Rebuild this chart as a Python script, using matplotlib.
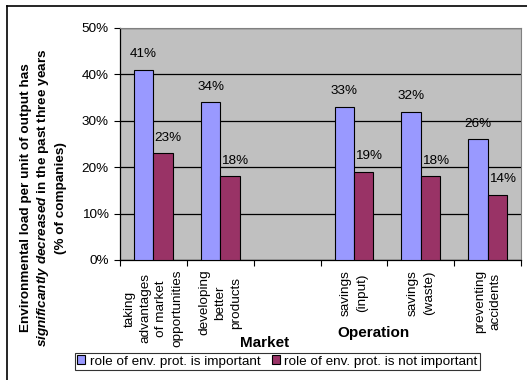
import numpy as np
import matplotlib.pyplot as plt
from matplotlib.lines import Line2D
from matplotlib.ticker import FixedLocator, PercentFormatter

plt.rcParams['font.family'] = ['Liberation Sans', 'DejaVu Sans']
plt.rcParams['mathtext.fontset'] = 'custom'
plt.rcParams['mathtext.bfit'] = 'Liberation Sans:italic:bold'

categories = ["taking\nadvantages\nof market\nopportunities",
              "developing\nbetter\nproducts",
              "",
              "savings\n(input)",
              "savings\n(waste)",
              "preventing\naccidents"]
important = [41, 34, None, 33, 32, 26]
not_important = [23, 18, None, 19, 18, 14]
series_names = ["role of env. prot. is important",
                "role of env. prot. is not important"]

W, H = 527, 380
fs = 9.7
fig = plt.figure(figsize=(W / 100, H / 100), dpi=100)
fig.patch.set_facecolor('white')

# plot area in pixels: x 120..521, y 28..260
ax = fig.add_axes([120 / W, 1 - 260 / H, 401 / W, 232 / H])
ax.set_facecolor('#C0C0C0')

x = np.arange(len(categories))
bw = 0.29
blue = '#9999FF'
red = '#993366'

for i in range(len(categories)):
    if important[i] is None:
        continue
    ax.bar(x[i] - bw / 2, important[i], bw, color=blue, edgecolor='black',
           linewidth=0.8, zorder=3)
    ax.bar(x[i] + bw / 2, not_important[i], bw, color=red, edgecolor='black',
           linewidth=0.8, zorder=3)
    ax.annotate(f"{important[i]}%", (x[i] - bw / 2, important[i]),
                xytext=(0, 7), textcoords='offset points',
                ha='center', va='bottom', fontsize=fs)
    ax.annotate(f"{not_important[i]}%", (x[i] + bw / 2, not_important[i]),
                xytext=(3.5, 7), textcoords='offset points',
                ha='center', va='bottom', fontsize=fs)

ax.set_xlim(-0.5, len(categories) - 0.5)
ax.set_ylim(0, 50)
ax.yaxis.set_major_locator(FixedLocator([0, 10, 20, 30, 40, 50]))
ax.yaxis.set_major_formatter(PercentFormatter(decimals=0))
ax.grid(axis='y', color='black', linewidth=0.9, zorder=1)
ax.set_axisbelow(True)

# category boundaries get tick marks, labels sit at the centres
ax.xaxis.set_major_locator(FixedLocator(np.arange(-0.5, len(categories), 1.0)))
ax.xaxis.set_major_formatter(plt.NullFormatter())
ax.xaxis.set_minor_locator(FixedLocator(x))
ax.set_xticklabels(categories, minor=True, rotation=90, fontsize=fs,
                   va='top', ha='center', linespacing=1.42)
ax.tick_params(axis='x', which='major', length=4, width=0.8, direction='out')
ax.tick_params(axis='x', which='minor', length=0, pad=7)
ax.tick_params(axis='y', length=4, width=0.8, direction='out', labelsize=fs, pad=4)

for side in ['top', 'right']:
    ax.spines[side].set_color('#808080')
for side in ['left', 'bottom']:
    ax.spines[side].set_color('black')
    ax.spines[side].set_linewidth(0.9)

# axis title, three lines
yc = 1 - 198 / H
fig.text(26 / W, yc, "Environmental load per unit of output has",
         rotation=90, ha='center', va='center', fontsize=fs, fontweight='bold')
fig.text(43 / W, yc, r"$\mathbfit{significantly\ decreased}$ in the past three years",
         rotation=90, ha='center', va='center', fontsize=fs, fontweight='bold')
fig.text(61 / W, yc, "(% of companies)",
         rotation=90, ha='center', va='center', fontsize=fs, fontweight='bold')

# group labels
fig.text(265 / W, 1 - 343 / H, "Market", ha='center', va='center',
         fontsize=11, fontweight='bold')
fig.text(373 / W, 1 - 333 / H, "Operation", ha='center', va='center',
         fontsize=11, fontweight='bold')

handles = [plt.Rectangle((0, 0), 1, 1, facecolor=blue, edgecolor='black', linewidth=0.8),
           plt.Rectangle((0, 0), 1, 1, facecolor=red, edgecolor='black', linewidth=0.8)]
leg = fig.legend(handles, series_names, loc='center',
                 bbox_to_anchor=(277.5 / W, 1 - 361.5 / H), ncol=2, fontsize=fs,
                 frameon=True, fancybox=False, edgecolor='black',
                 handlelength=0.6, handleheight=0.6, handletextpad=0.35,
                 columnspacing=0.8, borderpad=0.2, borderaxespad=0)
leg.get_frame().set_linewidth(0.8)

# outer frame, top and left edges
fig.add_artist(Line2D([7 / W, 1], [1 - 6 / H, 1 - 6 / H], color='black',
                      linewidth=1.2, transform=fig.transFigure))
fig.add_artist(Line2D([7 / W, 7 / W], [0, 1 - 6 / H], color='black',
                      linewidth=1.2, transform=fig.transFigure))

fig.savefig('out.png', dpi=100)
